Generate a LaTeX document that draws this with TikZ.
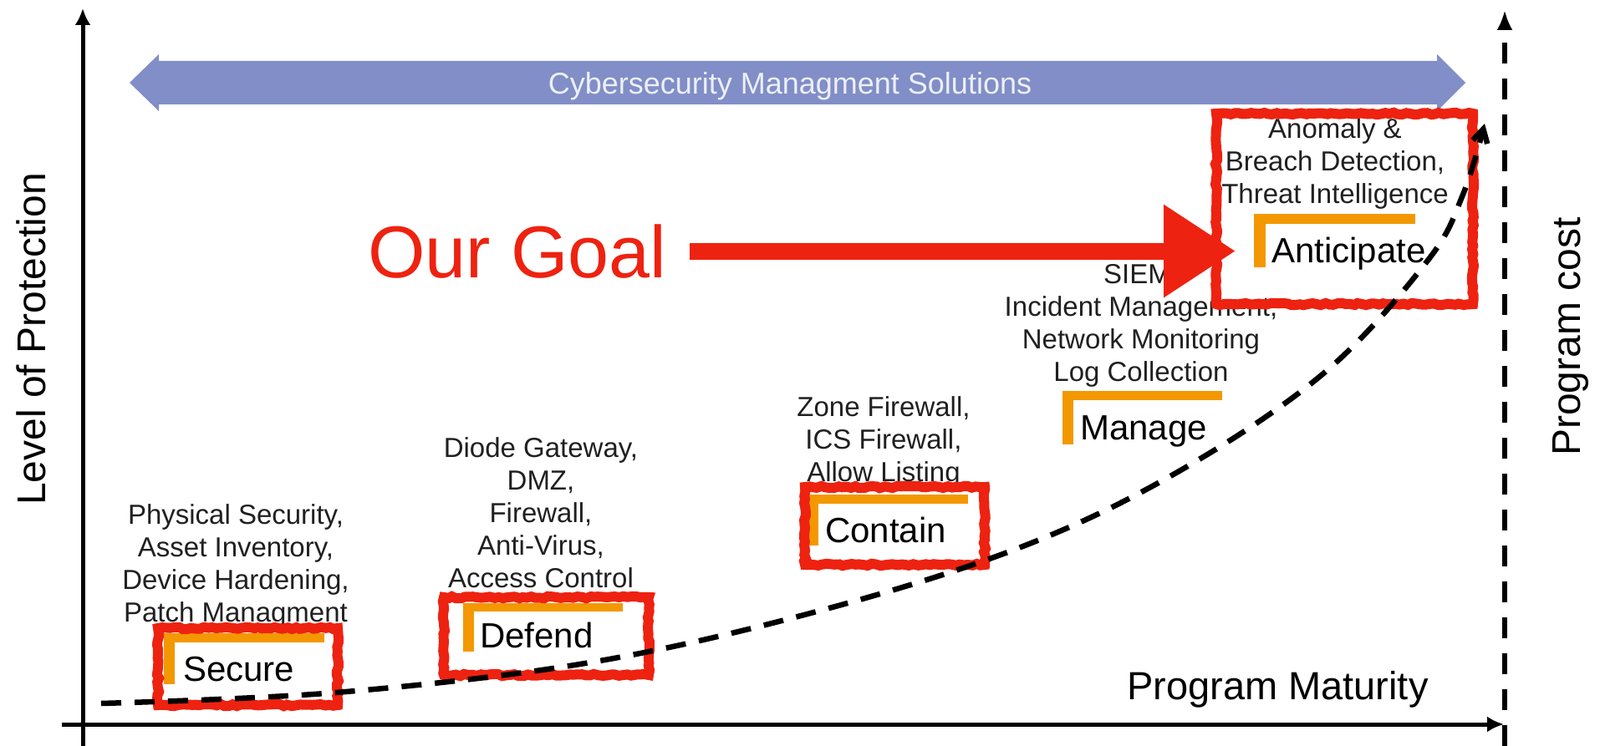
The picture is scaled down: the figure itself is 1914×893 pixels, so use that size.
\documentclass[tikz,border=0pt]{standalone}
\usepackage{fontspec}
\setmainfont{Liberation Sans}
\usetikzlibrary{arrows.meta,decorations.pathmorphing}
\definecolor{bandblue}{RGB}{129,142,199}
\definecolor{bandtext}{RGB}{236,239,246}
\definecolor{goalred}{RGB}{238,34,16}
\definecolor{stageorange}{RGB}{243,152,0}
\definecolor{desctext}{RGB}{32,32,32}
\begin{document}
\begin{tikzpicture}[x=1pt,y=-1pt,
  axisline/.style={line width=5pt, draw=black, -{Latex[length=20pt,width=19pt]}},
  costaxis/.style={line width=6pt, draw=black, dash pattern=on 25pt off 18pt, -{Latex[length=24pt,width=19pt]}},
  curveline/.style={line width=6.5pt, draw=black, dash pattern=on 24pt off 16pt, -{Straight Barb[length=16pt,width=18pt]}},
  desc/.style={font=\fontsize{33}{39}\selectfont, text=desctext, align=center, inner sep=0pt, anchor=north},
  stage/.style={font=\fontsize{42}{48}\selectfont, text=black, inner sep=0pt, anchor=base west},
  redbox/.style={draw=goalred, line width=12pt, inner sep=0pt, decorate, decoration={random steps, segment length=5pt, amplitude=1.2pt}},
  obar/.style={fill=stageorange},
  redarrow/.style={draw=goalred, line width=20pt, -{Triangle[length=86pt,width=106pt]}},
  axislabel/.style={font=\fontsize{48}{54}\selectfont, text=black, inner sep=0pt},
]
\useasboundingbox (0,0) rectangle (1914,893);

% blue band
\fill[bandblue] (155,99) -- (190,65) -- (190,73) -- (1719,73) -- (1719,65) -- (1753,99)
  -- (1719,133) -- (1719,125) -- (190,125) -- (190,133) -- cycle;
\node[font=\fontsize{36}{40}\selectfont, text=bandtext, inner sep=0pt, anchor=base] (bandlabel) at (945,113) {Cybersecurity Managment Solutions};

% axes
\coordinate (yb) at (99,893); \coordinate (yt) at (99,10);
\coordinate (xl) at (74,867); \coordinate (xr) at (1799,867);
\coordinate (cb) at (1800,893); \coordinate (ct) at (1800,12);
\draw[axisline] (yb) -- (yt);
\draw[axisline] (xl) -- (xr);
\draw[costaxis] (cb) -- (ct);

\node[axislabel, rotate=90, anchor=base] (ylab) at (54,406) {Level of Protection};
\node[axislabel, rotate=90, anchor=base] (clab) at (1890,403) {Program cost};
\node[axislabel, font=\fontsize{47}{52}\selectfont, anchor=base west] (xlab) at (1348,837) {Program Maturity};

% descriptions
\node[desc] (dsec) at (282,603) {Physical Security,\\Asset Inventory,\\Device Hardening,\\Patch Managment};
\node[desc] (ddef) at (647,523) {Diode Gateway,\\DMZ,\\Firewall,\\Anti-Virus,\\Access Control};
\node[desc] (dcon) at (1057,474) {Zone Firewall,\\ICS Firewall,\\Allow Listing};
\node[desc] (dman) at (1365,316) {SIEM,\\Incident Management,\\Network Monitoring\\Log Collection};
\node[desc] (dant) at (1597,141) {Anomaly \&\\Breach Detection,\\Threat Intelligence};

% orange bars
\fill[obar] (196,758) rectangle (388,769); \fill[obar] (196,758) rectangle (209,819);
\fill[obar] (554,722) rectangle (745,732); \fill[obar] (554,722) rectangle (567,780);
\fill[obar] (967,592) rectangle (1158,603); \fill[obar] (967,592) rectangle (979,653);
\fill[obar] (1271,468) rectangle (1462,479); \fill[obar] (1271,468) rectangle (1284,532);
\fill[obar] (1500,256) rectangle (1693,268); \fill[obar] (1500,256) rectangle (1514,320);

% stage labels
\node[stage] (sec) at (219,815) {Secure};
\node[stage] (def) at (574,775) {Defend};
\node[stage] (con) at (987,649) {Contain};
\node[stage] (man) at (1292,526) {Manage};
\node[stage] (ant) at (1521,315) {Anticipate};

% red boxes
\node[redbox, minimum width=215pt, minimum height=92pt] (secbox) at (296.5,798) {};
\node[redbox, minimum width=245pt, minimum height=93pt] (defbox) at (653.5,761.5) {};
\node[redbox, minimum width=215pt, minimum height=93pt] (conbox) at (1070.5,629.5) {};
\node[redbox, minimum width=307pt, minimum height=228pt] (antbox) at (1608.5,250) {};

% maturity curve
\draw[curveline] plot[smooth, tension=0.6] coordinates {(121,842) (402,829) (700,794) (962,736) (1208,660) (1400,570) (1582,448) (1707,313) (1750,233) (1776,148)};

% goal
\node[font=\fontsize{88}{96}\selectfont, text=goalred, inner sep=0pt, anchor=base west] (goal) at (440,332) {Our Goal};
\draw[redarrow] ([xshift=28pt]goal.east) -- ([xshift=29pt]antbox.west |- goal.east);
\end{tikzpicture}
\end{document}
